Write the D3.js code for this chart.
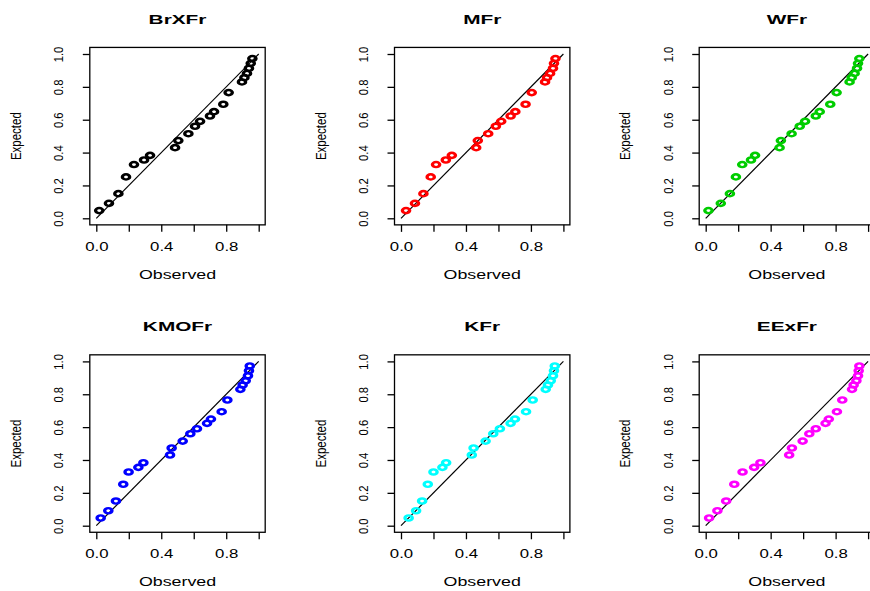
<!DOCTYPE html>
<html>
<head>
<meta charset="utf-8">
<script src="https://cdn.jsdelivr.net/npm/d3@7"></script>
<style>
  body { margin: 0; background: #fff; }
  svg { display: block; font-family: "Liberation Sans", Arial, Helvetica, sans-serif; }
</style>
</head>
<body>
<div id="chart"></div>
<script>
// data (same expected values in every panel)
const panelNames = ["BrXFr", "MFr", "WFr", "KMOFr", "KFr", "EExFr"];
const panelColors = ["#000000", "#ff0000", "#00cd00", "#0000ff", "#00ffff", "#ff00ff"];

const expected = [0.047, 0.091, 0.150, 0.252, 0.327, 0.355, 0.383, 0.430, 0.473, 0.515, 0.560,
  0.590, 0.623, 0.649, 0.694, 0.765, 0.830, 0.856, 0.882, 0.913, 0.943, 0.972];

const obsBrXFr = [0.018, 0.078, 0.136, 0.183, 0.232, 0.294, 0.331, 0.485, 0.505, 0.567, 0.608,
  0.639, 0.700, 0.725, 0.782, 0.815, 0.897, 0.912, 0.928, 0.940, 0.951, 0.961];
const obsMFr = [0.031, 0.086, 0.138, 0.183, 0.216, 0.276, 0.313, 0.463, 0.473, 0.537, 0.584,
  0.617, 0.675, 0.704, 0.767, 0.805, 0.887, 0.899, 0.918, 0.936, 0.942, 0.951];
const obsWFr = [0.017, 0.093, 0.149, 0.186, 0.225, 0.279, 0.304, 0.455, 0.463, 0.529, 0.579,
  0.612, 0.678, 0.702, 0.767, 0.806, 0.886, 0.899, 0.917, 0.932, 0.938, 0.946];
const obsKMOFr = [0.027, 0.074, 0.121, 0.166, 0.199, 0.259, 0.290, 0.454, 0.464, 0.532, 0.579,
  0.620, 0.682, 0.706, 0.772, 0.807, 0.887, 0.901, 0.920, 0.934, 0.940, 0.945];
const obsKFr = [0.047, 0.093, 0.130, 0.165, 0.200, 0.255, 0.278, 0.436, 0.447, 0.521, 0.568,
  0.609, 0.675, 0.702, 0.770, 0.811, 0.891, 0.905, 0.922, 0.936, 0.942, 0.947];
const obsEExFr = [0.021, 0.072, 0.126, 0.176, 0.227, 0.298, 0.337, 0.514, 0.531, 0.597, 0.638,
  0.678, 0.738, 0.758, 0.808, 0.841, 0.901, 0.911, 0.928, 0.938, 0.942, 0.946];
const observed = [obsBrXFr, obsMFr, obsWFr, obsKMOFr, obsKFr, obsEExFr];

const tickVals = [0, 0.2, 0.4, 0.6, 0.8, 1.0];
const xTickLabels = ["0.0", "", "0.4", "", "0.8", ""];
const yTickLabels = ["0.0", "0.2", "0.4", "0.6", "0.8", "1.0"];

// layout: pixel position of value 0 in each column / row
const width = 870, height = 591;
const colX0 = [96.3, 401, 705.7];
const rowY0 = [218.3, 525.7];
const unitX = 162.4, unitY = 164.3;

const svg = d3.select("#chart")
  .append("svg")
    .attr("width", width)
    .attr("height", height);

svg.append("rect").attr("width", width).attr("height", height).attr("fill", "#fff");

panelNames.forEach(function(name, i) {
  const col = i % 3, row = Math.floor(i / 3);

  const x = d3.scaleLinear()
    .domain([-0.04, 1.04])
    .range([colX0[col] - 0.04 * unitX, colX0[col] + 1.04 * unitX]);
  const y = d3.scaleLinear()
    .domain([-0.04, 1.04])
    .range([rowY0[row] + 0.04 * unitY, rowY0[row] - 1.04 * unitY]);

  const g = svg.append("g");
  const left = x(-0.04), right = x(1.04), top = y(1.04), bottom = y(-0.04);
  const cx = (left + right) / 2, cy = (top + bottom) / 2;

  // x axis
  const xa = g.append("g")
    .attr("transform", "translate(0," + bottom + ")")
    .call(d3.axisBottom(x)
      .tickValues(tickVals)
      .tickSize(7)
      .tickSizeOuter(0)
      .tickFormat(function(d, k) { return xTickLabels[k]; }));
  xa.select(".domain").remove();
  xa.selectAll(".tick line").attr("stroke", "#000").attr("stroke-width", 1.3);
  xa.selectAll(".tick text")
    .attr("y", 0).attr("dy", 0)
    .attr("fill", "#000")
    .attr("font-size", 12)
    .attr("font-family", null)
    .attr("transform", "translate(0,26) scale(1.4,1)");

  // y axis
  const ya = g.append("g")
    .attr("transform", "translate(" + left + ",0)")
    .call(d3.axisLeft(y)
      .tickValues(tickVals)
      .tickSize(7)
      .tickSizeOuter(0)
      .tickFormat(function(d, k) { return yTickLabels[k]; }));
  ya.select(".domain").remove();
  ya.selectAll(".tick line").attr("stroke", "#000").attr("stroke-width", 1.3);
  ya.selectAll(".tick text")
    .attr("x", 0).attr("dy", 0)
    .attr("fill", "#000")
    .attr("font-size", 11.3)
    .attr("font-family", null)
    .attr("text-anchor", "middle")
    .attr("transform", "translate(-26.5,0) scale(1.08,1) rotate(-90)");

  // plot box
  g.append("rect")
    .attr("x", left).attr("y", top)
    .attr("width", right - left).attr("height", bottom - top)
    .attr("fill", "none")
    .attr("stroke", "#000")
    .attr("stroke-width", 1.3);

  // reference line y = x
  g.append("line")
    .attr("x1", x(0)).attr("y1", y(0))
    .attr("x2", x(1)).attr("y2", y(1))
    .attr("stroke", "#000")
    .attr("stroke-width", 1.2);

  // points
  const pts = observed[i].map(function(v, k) { return {o: v, e: expected[k]}; });
  g.selectAll(".pt")
    .data(pts)
    .enter()
    .append("circle")
      .attr("class", "pt")
      .attr("r", 2.6)
      .attr("transform", function(d) { return "translate(" + x(d.o) + "," + y(d.e) + ") scale(1.4,1)"; })
      .attr("fill", "none")
      .attr("stroke", panelColors[i])
      .attr("stroke-width", 2.4);

  // title
  g.append("text")
    .attr("transform", "translate(" + cx + "," + (rowY0[row] - 194.3) + ") scale(1.6,1)")
    .attr("text-anchor", "middle")
    .attr("font-size", 13)
    .attr("font-weight", "bold")
    .text(name);

  // axis titles
  g.append("text")
    .attr("transform", "translate(" + cx + "," + (rowY0[row] + 60.7) + ") scale(1.32,1)")
    .attr("text-anchor", "middle")
    .attr("font-size", 13.5)
    .text("Observed");

  g.append("text")
    .attr("transform", "translate(" + (left - 69) + "," + cy + ") scale(1.2,1) rotate(-90)")
    .attr("text-anchor", "middle")
    .attr("font-size", 11.5)
    .text("Expected");
});
</script>
</body>
</html>
